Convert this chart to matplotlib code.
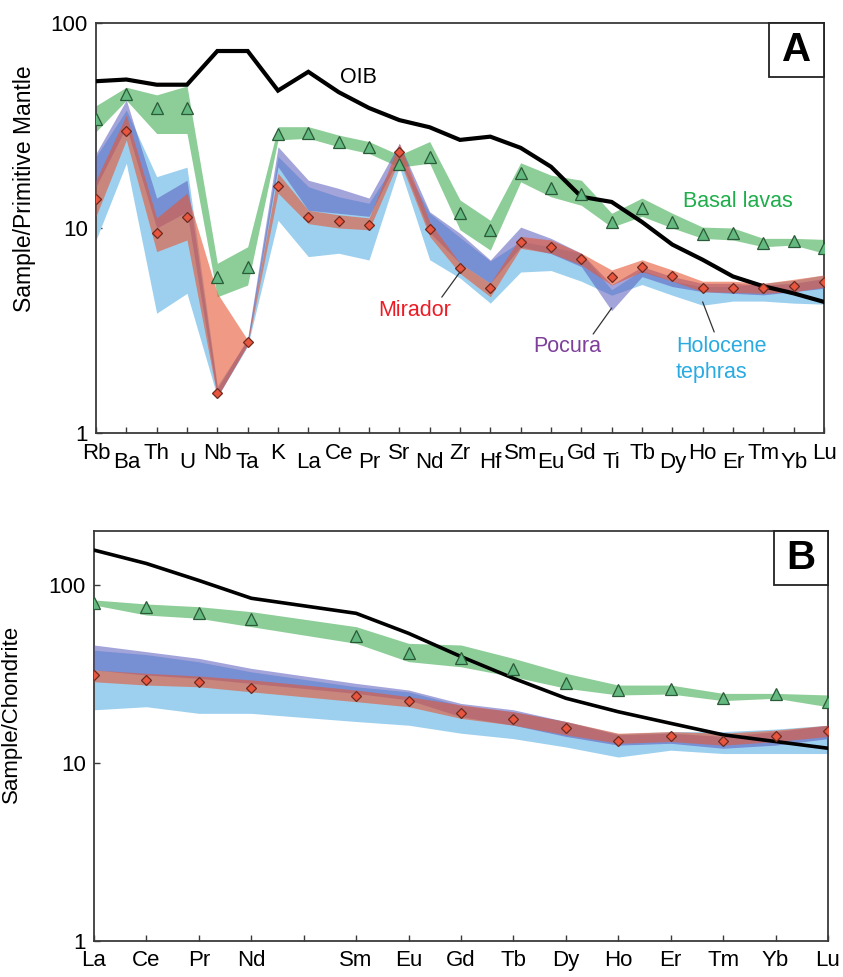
import numpy as np
import matplotlib
matplotlib.use("Agg")
import matplotlib.pyplot as plt
from matplotlib.patches import Rectangle

plt.rcParams['font.family'] = ['Liberation Sans', 'DejaVu Sans']

# ---------------- Panel A: primitive-mantle normalised ----------------
spider_elements = ['Rb', 'Ba', 'Th', 'U', 'Nb', 'Ta', 'K', 'La', 'Ce', 'Pr', 'Sr', 'Nd', 'Zr',
                   'Hf', 'Sm', 'Eu', 'Gd', 'Ti', 'Tb', 'Dy', 'Ho', 'Er', 'Tm', 'Yb', 'Lu']

oib_pm = [52, 53, 50, 50, 73, 73, 46.8, 57.8, 46, 38.5, 33.6, 31, 26.9, 27.9, 24.6, 19.9,
          14.2, 13.4, 10.7, 8.3, 7.0, 5.8, 5.2, 4.8, 4.36]

basal_pm = [33.9, 44.9, 38.4, 38.4, 5.79, 6.43, 28.6, 29.2, 26.4, 24.7, 20.5, 22.3, 11.8, 9.78,
            18.6, 15.7, 14.7, 10.7, 12.5, 10.7, 9.31, 9.42, 8.42, 8.67, 8.02]
basal_pm_hi = [39.5, 48.6, 44.6, 49.3, 6.73, 8.1, 31.2, 31.2, 28.4, 26.4, 22.7, 26.4, 13.7, 10.9,
               20.8, 18.1, 17.1, 11.8, 14.0, 11.8, 10.1, 10.0, 8.9, 8.9, 8.8]
basal_pm_lo = [29.5, 42.0, 28.9, 28.9, 4.62, 5.27, 26.9, 27.4, 24.9, 23.1, 19.8, 20.7, 9.8, 7.8,
               16.8, 14.2, 12.9, 10.1, 11.4, 10.0, 8.9, 8.74, 8.1, 8.26, 7.53]

mirador_pm = [13.9, 29.7, 9.42, 11.3, 1.56, 2.77, 16.1, 11.3, 10.8, 10.3, 23.4, 9.86, 6.4, 5.08,
              8.51, 8.1, 7.06, 5.79, 6.48, 5.83, 5.08, 5.08, 5.08, 5.21, 5.43]
mirador_pm_hi = [17.1, 35.6, 11.2, 14.8, 4.8, 2.84, 18.5, 12.2, 11.6, 11.2, 25.9, 10.7, 6.73, 5.37,
                 9.1, 8.74, 7.53, 6.24, 7.0, 6.24, 5.5, 5.5, 5.37, 5.62, 5.9]
mirador_pm_lo = [11.4, 26.9, 7.67, 8.74, 1.5, 2.69, 14.8, 10.5, 10.0, 9.8, 21.5, 9.1, 6.0, 4.62,
                 7.96, 7.53, 6.6, 5.27, 6.12, 5.5, 4.89, 4.85, 4.8, 4.89, 5.14]

pocura_pm_hi = [23.1, 42.1, 14.0, 17.1, 1.65, 2.9, 24.9, 17.1, 15.6, 14.0, 25.9, 12.0, 9.42, 6.98,
                10.1, 8.9, 7.53, 5.3, 6.48, 5.79, 5.37, 5.37, 5.27, 5.37, 5.67]
pocura_pm_lo = [15.9, 31.2, 10.0, 12.0, 1.5, 2.7, 19.9, 12.2, 11.8, 11.4, 22.3, 9.5, 6.73, 5.37,
                8.1, 7.5, 6.48, 3.95, 5.79, 5.18, 4.89, 4.8, 4.72, 4.89, 5.08]

holo_pm_hi = [22.3, 37.6, 17.8, 19.8, 1.7, 2.85, 22.3, 15.9, 14.2, 13.2, 22.3, 11.8, 9.0, 6.9,
              8.6, 8.1, 7.53, 5.0, 6.24, 5.5, 5.18, 5.18, 5.37, 5.56, 5.9]
holo_pm_lo = [8.74, 20.7, 3.84, 4.8, 1.5, 2.65, 10.9, 7.25, 7.53, 6.98, 19.9, 7.0, 5.7, 4.3,
              6.1, 6.2, 5.5, 4.7, 5.3, 4.7, 4.2, 4.4, 4.4, 4.3, 4.25]

# ---------------- Panel B: chondrite normalised REE ----------------
ree_ticks = ['La', 'Ce', 'Pr', 'Nd', '', 'Sm', 'Eu', 'Gd', 'Tb', 'Dy', 'Ho', 'Er', 'Tm', 'Yb', 'Lu']
ree_elements = ['La', 'Ce', 'Pr', 'Nd', 'Sm', 'Eu', 'Gd', 'Tb', 'Dy', 'Ho', 'Er', 'Tm', 'Yb', 'Lu']

oib_ch = [157, 132, 106, 84.2, 69.3, 53.5, 39.6, 29.9, 23.1, 19.4, 16.7, 14.4, 13.2, 12.1]

basal_ch = [79.6, 74.9, 69.3, 64.1, 51.7, 41.3, 39.1, 33.6, 28, 25.7, 25.9, 23.1, 24.4, 22.1]
basal_ch_hi = [82.4, 78.2, 75.5, 70.8, 58.3, 47, 46, 38.7, 31.9, 27.4, 27.4, 24.6, 24.6, 24.1]
basal_ch_lo = [77.2, 67.8, 65, 58.3, 47, 37.1, 34.7, 30.5, 26.3, 24.1, 24.4, 22.4, 23.1, 20.7]

mirador_ch = [31.1, 29.3, 28.4, 26.5, 23.7, 22.3, 19.2, 17.6, 15.7, 13.3, 14.1, 13.3, 14.1, 15.1]
mirador_ch_hi = [33.3, 31.9, 30.8, 29.3, 25.7, 23.6, 21.2, 19.4, 17.1, 14.7, 15.0, 14.7, 15.3, 16.3]
mirador_ch_lo = [28.6, 27.4, 26.8, 25.1, 22.1, 20.7, 17.8, 16.3, 14.4, 12.9, 13.2, 12.6, 13.2, 14.1]

pocura_ch_hi = [46, 42.2, 38.7, 34, 28, 25.7, 21.6, 19.9, 17.1, 14.4, 14.7, 14.1, 15, 16.3]
pocura_ch_lo = [33.3, 31.2, 29.9, 28, 24.6, 22.6, 18.2, 16.3, 14.1, 12.6, 12.9, 12.1, 12.6, 13.7]

holo_ch_hi = [43, 40.6, 37, 32.5, 26.8, 25.1, 21, 19.4, 17.1, 14.6, 15, 15, 15.5, 16.3]
holo_ch_lo = [19.9, 20.7, 19, 19, 17.1, 16.3, 14.7, 13.7, 12.3, 10.8, 11.8, 11.3, 11.3, 11.3]

# ---------------- styles ----------------
C_GREEN_BAND = '#8dcd97'
C_BLUE_BAND = '#9dd0ef'
C_PURPLE = (88 / 255, 90 / 255, 188 / 255)
C_ORANGE = (230 / 255, 85 / 255, 50 / 255)
TRI_FACE = '#63b97f'
TRI_EDGE = '#2b5a38'
DIA_FACE = '#e8563f'
DIA_EDGE = '#6e2a1f'

fig = plt.figure(figsize=(8.43, 9.77), dpi=100)
axA = fig.add_axes([96 / 843, 1 - 433 / 977, 728 / 843, 410 / 977])
axB = fig.add_axes([94 / 843, 1 - 941 / 977, 734 / 843, 410 / 977])


def draw_bands(ax, x, g_lo, g_hi, b_lo, b_hi, p_lo, p_hi, m_lo, m_hi, oib, g_mk, m_mk, lw):
    ax.fill_between(x, g_lo, g_hi, color=C_GREEN_BAND, lw=0, zorder=1)
    ax.fill_between(x, b_lo, b_hi, color=C_BLUE_BAND, lw=0, zorder=2)
    ax.fill_between(x, p_lo, p_hi, color=C_PURPLE, alpha=0.55, lw=0, zorder=3)
    ax.fill_between(x, m_lo, m_hi, color=C_ORANGE, alpha=0.6, lw=0, zorder=4)
    ax.plot(x, oib, color='black', lw=lw, zorder=5, solid_joinstyle='miter')
    ax.plot(x, g_mk, ls='none', marker='^', ms=8, mfc=TRI_FACE, mec=TRI_EDGE, mew=0.9, zorder=6)
    ax.plot(x, m_mk, ls='none', marker='D', ms=5.5, mfc=DIA_FACE, mec=DIA_EDGE, mew=0.9, zorder=6)


# ---- Panel A ----
xa = np.arange(len(spider_elements))
draw_bands(axA, xa, basal_pm_lo, basal_pm_hi, holo_pm_lo, holo_pm_hi, pocura_pm_lo, pocura_pm_hi,
           mirador_pm_lo, mirador_pm_hi, oib_pm, basal_pm, mirador_pm, 3.0)
axA.set_yscale('log')
axA.set_ylim(1, 100)
axA.set_xlim(0, len(spider_elements) - 1)
axA.set_yticks([1, 10, 100])
axA.set_yticklabels(['1', '10', '100'])
axA.yaxis.set_minor_locator(matplotlib.ticker.NullLocator())
axA.set_xticks(xa)
axA.set_xticklabels([])
for i, el in enumerate(spider_elements):
    off = -7.5 if i % 2 == 0 else -13.5
    axA.annotate(el, xy=(i, 0), xycoords=('data', 'axes fraction'), xytext=(0, off),
                 textcoords='offset points', ha='center', va='top', fontsize=16)
axA.set_ylabel('Sample/Primitive Mantle', fontsize=16.5)
axA.yaxis.set_label_coords(-0.082, 0.595)

axA.text(8.04, 54, 'OIB', fontsize=15.5, ha='left', va='center', color='black', zorder=7)
axA.text(19.35, 13.4, 'Basal lavas', fontsize=15.5, ha='left', va='center', color='#1fae4b', zorder=7)
axA.text(9.3, 3.98, 'Mirador', fontsize=15.5, ha='left', va='center', color='#ed1c24', zorder=7)
axA.text(14.41, 2.63, 'Pocura', fontsize=15.5, ha='left', va='center', color='#7d3f9a', zorder=7)
axA.text(19.12, 2.28, 'Holocene\ntephras', fontsize=15.5, ha='left', va='center', color='#29abe2',
         linespacing=1.3, zorder=7)
lead = dict(arrowstyle='-', color='#333333', lw=0.9, shrinkA=0, shrinkB=0)
axA.annotate('', xy=(12, 6.1), xytext=(11.4, 4.6), arrowprops=lead, zorder=7)
axA.annotate('', xy=(17, 4.07), xytext=(16.39, 3.04), arrowprops=lead, zorder=7)
axA.annotate('', xy=(20, 4.36), xytext=(20.38, 3.11), arrowprops=lead, zorder=7)

# ---- Panel B ----
xb = [ree_ticks.index(e) for e in ree_elements]
draw_bands(axB, xb, basal_ch_lo, basal_ch_hi, holo_ch_lo, holo_ch_hi, pocura_ch_lo, pocura_ch_hi,
           mirador_ch_lo, mirador_ch_hi, oib_ch, basal_ch, mirador_ch, 2.6)
axB.set_yscale('log')
axB.set_ylim(1, 201)
axB.set_xlim(0, len(ree_ticks) - 1)
axB.set_yticks([1, 10, 100])
axB.set_yticklabels(['1', '10', '100'])
axB.yaxis.set_minor_locator(matplotlib.ticker.NullLocator())
axB.set_xticks(range(len(ree_ticks)))
axB.set_xticklabels(ree_ticks, fontsize=16)
axB.set_ylabel('Sample/Chondrite', fontsize=16)
axB.yaxis.set_label_coords(-0.098, 0.554)

for ax, lab, pad in ((axA, 'A', 8), (axB, 'B', 6.5)):
    for s in ax.spines.values():
        s.set_color('#3a3a3a')
        s.set_linewidth(1.3)
    ax.tick_params(axis='both', direction='in', length=4, width=1.0, color='#3a3a3a',
                   top=False, right=False)
    ax.tick_params(axis='y', labelsize=16, pad=6)
    ax.tick_params(axis='x', pad=pad)

# label boxes
axA.add_patch(Rectangle((1 - 55 / 728, 1 - 54 / 410), 55 / 728, 54 / 410, transform=axA.transAxes,
                        fill=True, facecolor='white', edgecolor='#222222', lw=1.3, zorder=8,
                        clip_on=False))
axA.text(1 - 27.5 / 728, 1 - 27 / 410, 'A', transform=axA.transAxes, fontsize=29, fontweight='bold',
         ha='center', va='center', zorder=9)
axB.add_patch(Rectangle((1 - 54 / 734, 1 - 54 / 410), 54 / 734, 54 / 410, transform=axB.transAxes,
                        fill=True, facecolor='white', edgecolor='#222222', lw=1.3, zorder=8,
                        clip_on=False))
axB.text(1 - 27 / 734, 1 - 27 / 410, 'B', transform=axB.transAxes, fontsize=29, fontweight='bold',
         ha='center', va='center', zorder=9)

fig.savefig('out.png', dpi=100, facecolor='white')
